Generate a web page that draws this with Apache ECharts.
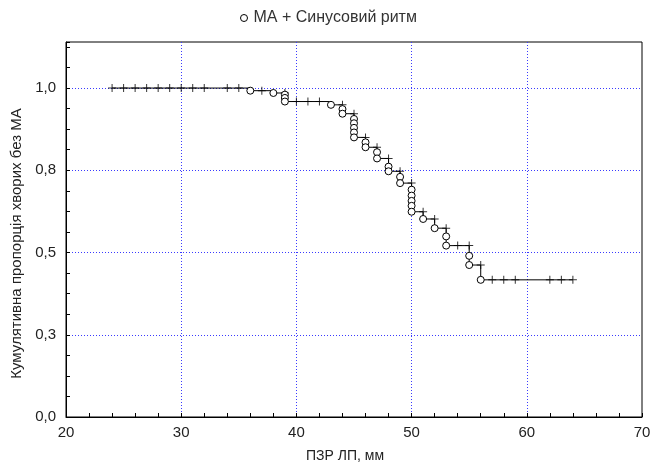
<!DOCTYPE html>
<html>
<head>
<meta charset="utf-8">
<script src="https://cdn.jsdelivr.net/npm/echarts@6/dist/echarts.min.js"></script>
<style>
html,body{margin:0;padding:0;background:#fff;}
#chart{width:664px;height:468px;}
</style>
</head>
<body>
<div id="chart"></div>
<script>
// ---- data ----
const seriesName = 'МА + Синусовий ритм';
const xTitle = 'ПЗР ЛП, мм';
const yTitle = 'Кумулятивна пропорція хворих без МА';
const yTickValues = [0, 0.25, 0.5, 0.75, 1.0];
const yTickLabels = ['0,0', '0,3', '0,5', '0,8', '1,0'];
// events (circles): x and survival level after the event
const eventX = [36,38,39,39,39,43,44,44,45,45,45,45,45,46,46,47,47,48,48,49,49,50,50,50,50,50,51,52,53,53,55,55,56];
const eventS = [0.992,0.985,0.980,0.970,0.959,0.949,0.936,0.922,0.906,0.893,0.879,0.865,0.850,0.835,0.820,0.805,0.786,0.761,0.747,0.730,0.711,0.691,0.673,0.657,0.642,0.624,0.602,0.574,0.549,0.521,0.490,0.462,0.417];
// censored (+): x and current level
const censorX = [24,25,26,27,28,29,30,31,32,34,35,37,39,40,41,42,44,45,46,47,48,49,50,51,52,53,54,55,56,57,58,59,62,63,64];
const censorS = [1,1,1,1,1,1,1,1,1,1,1,0.992,0.985,0.959,0.959,0.959,0.949,0.922,0.850,0.820,0.786,0.747,0.711,0.624,0.602,0.574,0.521,0.521,0.462,0.417,0.417,0.417,0.417,0.417,0.417];
const lineStart = [24, 1.0];
const lineEnd = [64, 0.417];

// ---- build ----
const eventData = eventX.map((x, i) => [x, eventS[i]]);
const censorData = censorX.map((x, i) => [x, censorS[i]]);
const lineData = [lineStart].concat(eventData, [lineEnd]);

const plusPath = 'path://M3.5,0h1v8h-1zM0,3.5h8v1h-8z';
const font = 'Arial, "Liberation Sans", sans-serif';

const chart = echarts.init(document.getElementById('chart'), null, {renderer: 'canvas'});
chart.setOption({
  animation: false,
  backgroundColor: '#ffffff',
  textStyle: {fontFamily: font},
  legend: {
    data: [seriesName],
    top: 5,
    left: 235,
    itemWidth: 7,
    itemHeight: 7,
    itemGap: 6,
    itemStyle: {borderWidth: 1, borderColor: '#000', color: '#fff'},
    textStyle: {fontSize: 16, color: '#333', fontFamily: font, padding: [0, 0, 0, 1]}
  },
  grid: {
    left: 66, right: 22, top: 42, bottom: 50,
    show: true, borderColor: '#000', borderWidth: 1, backgroundColor: 'transparent'
  },
  xAxis: {
    type: 'value', min: 20, max: 70, interval: 10,
    name: xTitle, nameLocation: 'middle', nameGap: 32,
    nameTextStyle: {fontSize: 14, color: '#222', fontFamily: font, padding: [0, 18, 0, 0]},
    axisLine: {show: true, lineStyle: {color: '#000', width: 1}},
    axisTick: {show: true, inside: true, length: 4, lineStyle: {color: '#000'}},
    minorTick: {show: true, splitNumber: 5, length: 4, lineStyle: {color: '#000'}},
    axisLabel: {fontSize: 15, color: '#222', margin: 8, fontFamily: font},
    splitLine: {show: true, showMinLine: false, showMaxLine: false, lineStyle: {color: '#3a3aff', type: [1, 2], width: 1}}
  },
  yAxis: {
    type: 'value', min: 0, max: 1.14, interval: 0.25,
    name: yTitle, nameLocation: 'middle', nameGap: 36,
    nameTextStyle: {fontSize: 15, color: '#222', fontFamily: font, padding: [0, 28, 0, 0]},
    axisLine: {show: true, lineStyle: {color: '#000', width: 1}},
    axisTick: {show: true, inside: true, length: 4, lineStyle: {color: '#000'}},
    minorTick: {show: true, splitNumber: 4, length: 4, lineStyle: {color: '#000'}},
    axisLabel: {
      fontSize: 15, color: '#222', margin: 10, fontFamily: font,
      formatter: function (v) {
        for (let i = 0; i < yTickValues.length; i++) {
          if (Math.abs(v - yTickValues[i]) < 1e-6) return yTickLabels[i];
        }
        return '';
      }
    },
    splitLine: {show: true, showMinLine: false, showMaxLine: false, lineStyle: {color: '#3a3aff', type: [1, 2], width: 1}}
  },
  series: [
    {
      name: 'curve', type: 'line', step: 'end', data: lineData,
      showSymbol: false, symbol: 'none',
      lineStyle: {color: '#000', width: 1}, z: 2, silent: true
    },
    {
      name: 'censored', type: 'scatter', data: censorData,
      symbol: plusPath, symbolSize: 8,
      itemStyle: {color: '#000'}, z: 3
    },
    {
      name: seriesName, type: 'scatter', data: eventData,
      symbol: 'circle', symbolSize: 7,
      itemStyle: {color: '#fff', borderColor: '#000', borderWidth: 1, opacity: 1}, z: 4
    }
  ]
});
</script>
</body>
</html>
